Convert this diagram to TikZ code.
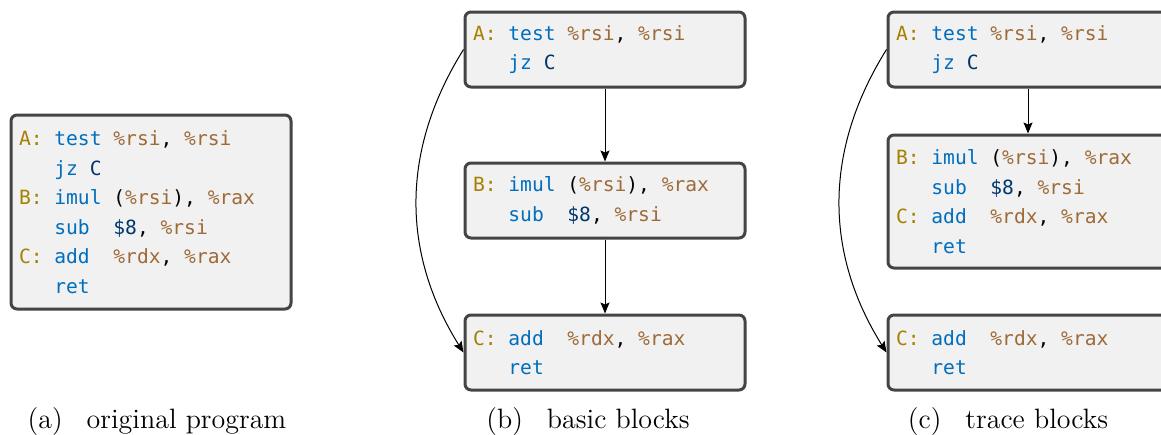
\documentclass[tikz,border=0pt]{standalone}
\usepackage{xcolor}
\usepackage{fontspec}
\usepackage{tikz}
\usetikzlibrary{arrows.meta, positioning}
\newfontfamily\asmfont{DejaVu Sans Mono}
\definecolor{codelbl}{RGB}{166,128,0}
\definecolor{codeop}{RGB}{0,110,190}
\definecolor{codereg}{RGB}{158,106,56}
\definecolor{codeimm}{RGB}{0,54,110}
\definecolor{boxfill}{RGB}{241,241,241}
\definecolor{boxline}{RGB}{68,68,68}
\newcommand{\asmlbl}[1]{\textcolor{codelbl}{#1}}
\newcommand{\asmop}[1]{\textcolor{codeop}{#1}}
\newcommand{\asmreg}[1]{\textcolor{codereg}{#1}}
\newcommand{\asmimm}[1]{\textcolor{codeimm}{#1}}
% one fixed-width column
\newcommand{\asmsp}{\hphantom{0}}
\newcommand{\asmind}{\hphantom{A:0}}
\tikzset{
  codebox/.style={rectangle, draw=boxline, fill=boxfill, line width=1.5pt,
    rounded corners=3pt, anchor=north west, text width=132pt, inner xsep=4pt,
    align=left, font=\asmfont\fontsize{9.8}{14.75}\selectfont},
  flow/.style={-{Stealth[length=5.5pt, width=4.5pt, inset=1pt]}, line width=0.5pt, color=black},
  subcap/.style={anchor=base, font=\fontsize{14}{16}\selectfont}
}

\begin{document}
\begin{tikzpicture}[x=0.5pt, y=-0.5pt]
  \useasboundingbox (0,0) rectangle (1161,434);
  % (a) whole program
  \node[codebox, minimum height=97pt] (prog) at (9.5,113.5) {%
    \asmlbl{A:}\asmsp\asmop{test}\asmsp\asmreg{\%rsi},\asmsp\asmreg{\%rsi}\\
    \asmind\asmop{jz}\asmsp\asmimm{C}\\
    \asmlbl{B:}\asmsp\asmop{imul}\asmsp(\asmreg{\%rsi}),\asmsp\asmreg{\%rax}\\
    \asmind\asmop{sub}\asmsp\asmsp\asmimm{\$8},\asmsp\asmreg{\%rsi}\\
    \asmlbl{C:}\asmsp\asmop{add}\asmsp\asmsp\asmreg{\%rdx},\asmsp\asmreg{\%rax}\\
    \asmind\asmop{ret}};
  % (b) basic blocks
  \node[codebox, minimum height=37.5pt] (bbA) at (463.5,10.5) {%
    \asmlbl{A:}\asmsp\asmop{test}\asmsp\asmreg{\%rsi},\asmsp\asmreg{\%rsi}\\
    \asmind\asmop{jz}\asmsp\asmimm{C}};
  \node[codebox, minimum height=37.5pt] (bbB) at (463.5,161.5) {%
    \asmlbl{B:}\asmsp\asmop{imul}\asmsp(\asmreg{\%rsi}),\asmsp\asmreg{\%rax}\\
    \asmind\asmop{sub}\asmsp\asmsp\asmimm{\$8},\asmsp\asmreg{\%rsi}};
  \node[codebox, minimum height=37.5pt] (bbC) at (463.5,313.5) {%
    \asmlbl{C:}\asmsp\asmop{add}\asmsp\asmsp\asmreg{\%rdx},\asmsp\asmreg{\%rax}\\
    \asmind\asmop{ret}};
  \draw[flow] (bbA) -- (bbB);
  \draw[flow] (bbB) -- (bbC);
  \draw[flow] (bbA.west) to[bend right=32] (bbC.west);
  % (c) trace blocks
  \node[codebox, minimum height=37.5pt] (trA) at (886.5,10.5) {%
    \asmlbl{A:}\asmsp\asmop{test}\asmsp\asmreg{\%rsi},\asmsp\asmreg{\%rsi}\\
    \asmind\asmop{jz}\asmsp\asmimm{C}};
  \node[codebox, minimum height=66.5pt] (trBC) at (886.5,133.5) {%
    \asmlbl{B:}\asmsp\asmop{imul}\asmsp(\asmreg{\%rsi}),\asmsp\asmreg{\%rax}\\
    \asmind\asmop{sub}\asmsp\asmsp\asmimm{\$8},\asmsp\asmreg{\%rsi}\\
    \asmlbl{C:}\asmsp\asmop{add}\asmsp\asmsp\asmreg{\%rdx},\asmsp\asmreg{\%rax}\\
    \asmind\asmop{ret}};
  \node[codebox, minimum height=37.5pt] (trC) at (886.5,313.5) {%
    \asmlbl{C:}\asmsp\asmop{add}\asmsp\asmsp\asmreg{\%rdx},\asmsp\asmreg{\%rax}\\
    \asmind\asmop{ret}};
  \draw[flow] (trA) -- (trBC);
  \draw[flow] (trA.west) to[bend right=32] (trC.west);
  % captions
  \node[subcap] (capa) at (157,428.7) {(a)\hspace{12pt}original program};
  \node[subcap] (capb) at (588,428.7) {(b)\hspace{12pt}basic blocks};
  \node[subcap] (capc) at (1008,428.7) {(c)\hspace{12pt}trace blocks};
\end{tikzpicture}
\end{document}
